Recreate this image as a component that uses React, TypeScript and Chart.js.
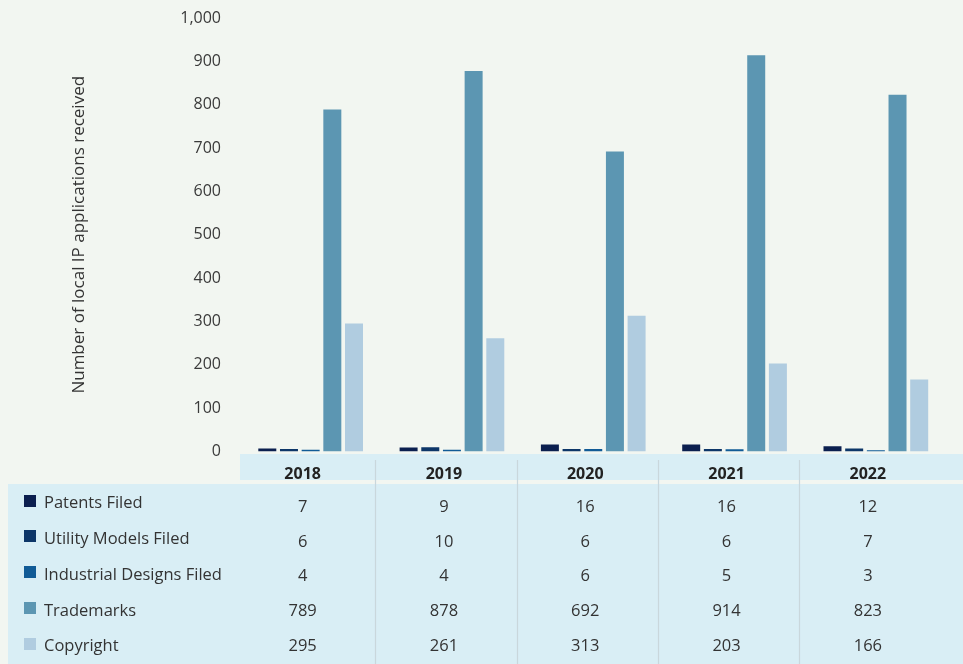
import React, { useEffect, useRef } from "react";
import { Chart, registerables } from "chart.js";

Chart.register(...registerables);

// Local IP applications received, by year
const years = ["2018", "2019", "2020", "2021", "2022"];
const patentsFiled = [7, 9, 16, 16, 12];
const utilityModelsFiled = [6, 10, 6, 6, 7];
const industrialDesignsFiled = [4, 4, 6, 5, 3];
const trademarks = [789, 878, 692, 914, 823];
const copyright = [295, 261, 313, 203, 166];

const seriesNames = [
  "Patents Filed",
  "Utility Models Filed",
  "Industrial Designs Filed",
  "Trademarks",
  "Copyright",
];
const seriesValues = [patentsFiled, utilityModelsFiled, industrialDesignsFiled, trademarks, copyright];
const seriesColors = ["#0b1f4f", "#0d3668", "#115b96", "#5c96b2", "#b0cce0"];

const yMin = 0;
const yMax = 1000;
const yStep = 100;
const yTitle = "Number of local IP applications received";

const W = 963;
const H = 664;
const PAGE_BG = "#f2f6f1";
const TABLE_BG = "#d9eef5";
const RULE = "#c9d7dc";
const FONT = "'Open Sans', 'Noto Sans', sans-serif";

// Data table drawn beneath the plot: year header, legend keys and values
const dataTable = {
  id: "dataTable",
  beforeDraw(chart: Chart) {
    const { ctx, chartArea } = chart;
    const x = chart.scales.x;
    ctx.save();
    ctx.fillStyle = PAGE_BG;
    ctx.fillRect(0, 0, W, H);
    ctx.fillStyle = TABLE_BG;
    ctx.fillRect(chartArea.left, 454, W - chartArea.left, 26);
    ctx.fillRect(8, 484, W - 8, H - 484);
    const centers = years.map((_, i) => x.getPixelForValue(i) - 8);
    ctx.strokeStyle = RULE;
    ctx.lineWidth = 1.2;
    for (let i = 0; i < centers.length - 1; i++) {
      const sx = Math.round((centers[i] + centers[i + 1]) / 2) + 2.5;
      ctx.beginPath();
      ctx.moveTo(sx, 460);
      ctx.lineTo(sx, H);
      ctx.stroke();
    }
    ctx.restore();
  },
  afterDraw(chart: Chart) {
    const { ctx } = chart;
    const x = chart.scales.x;
    const centers = years.map((_, i) => x.getPixelForValue(i) - 8);
    ctx.save();
    ctx.textBaseline = "middle";
    ctx.textAlign = "center";
    ctx.fillStyle = "#222222";
    ctx.font = `bold 16px ${FONT}`;
    years.forEach((yr, i) => ctx.fillText(yr, centers[i], 474));

    ctx.font = `16.5px ${FONT}`;
    seriesNames.forEach((name, r) => {
      const ly = 503.5 + r * 35.8;
      const vy = 507 + r * 34.8;
      ctx.fillStyle = seriesColors[r];
      ctx.fillRect(24, Math.round(ly - 9), 12, 12);
      ctx.fillStyle = "#333333";
      ctx.textAlign = "left";
      ctx.fillText(name, 44, ly);
      ctx.textAlign = "center";
      seriesValues[r].forEach((v, i) => ctx.fillText(v.toLocaleString("en-US"), centers[i], vy));
    });
    ctx.restore();
  },
};

export default function App() {
  const canvasRef = useRef<HTMLCanvasElement | null>(null);

  useEffect(() => {
    document.body.style.margin = "0";
    document.body.style.background = PAGE_BG;
    const canvas = canvasRef.current;
    if (!canvas) return;
    Chart.defaults.font.family = FONT;

    const chart = new Chart(canvas, {
      type: "bar",
      data: {
        labels: years,
        datasets: seriesNames.map((name, i) => ({
          label: name,
          data: seriesValues[i],
          backgroundColor: seriesColors[i],
          borderWidth: 0,
          categoryPercentage: 0.767,
          barPercentage: 0.83,
        })),
      },
      options: {
        responsive: false,
        animation: false,
        layout: { padding: { left: 69, top: 18, right: 16.5, bottom: 212.5 } },
        plugins: {
          legend: { display: false },
          tooltip: { enabled: false },
        },
        scales: {
          x: {
            display: false,
          },
          y: {
            min: yMin,
            max: yMax,
            grid: { display: false, drawTicks: false },
            border: { display: false },
            ticks: {
              stepSize: yStep,
              padding: 19,
              color: "#3a3a3a",
              font: { size: 16, family: FONT },
            },
            title: {
              display: true,
              text: yTitle,
              color: "#333333",
              font: { size: 17, family: FONT },
              padding: { top: 0, bottom: 0 },
            },
            afterFit(scale: any) {
              scale.width = 240 - 69;
              scale.paddingTop = 0;
              scale.paddingBottom = 0;
            },
          },
        },
      },
      plugins: [dataTable],
    });
    return () => chart.destroy();
  }, []);

  return (
    <div style={{ width: W, height: H, background: PAGE_BG }}>
      <canvas ref={canvasRef} width={W} height={H} style={{ display: "block" }} />
    </div>
  );
}
